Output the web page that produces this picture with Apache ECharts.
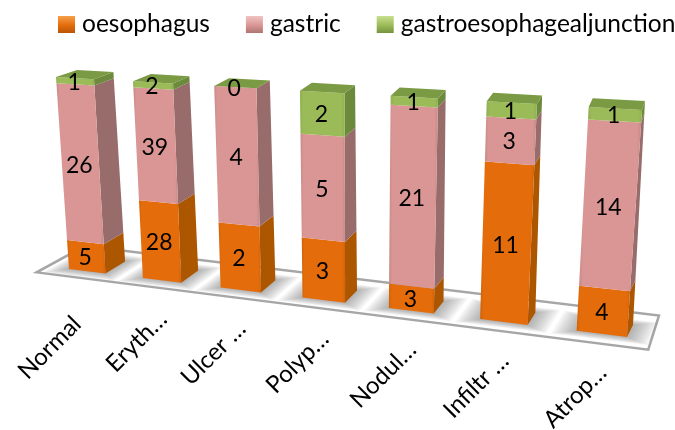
<!DOCTYPE html>
<html>
<head>
<meta charset="utf-8">
<style>html,body{margin:0;padding:0;background:#fff}#c{width:675px;height:430px}</style>
<script src="https://cdn.jsdelivr.net/npm/echarts@6/dist/echarts.min.js"></script>
</head>
<body>
<div id="c"></div>
<script>
var categories = ['Normal', 'Eryth…', 'Ulcer …', 'Polyp…', 'Nodul…', 'Infiltr …', 'Atrop…'];
var oesophagus = [5, 28, 2, 3, 3, 11, 4];
var gastric = [26, 39, 4, 5, 21, 3, 14];
var junction = [1, 2, 0, 2, 1, 1, 1];

var W = 675, H = 430, FONT = 'Lato, "Open Sans", sans-serif';

// homography unit square -> quad
function homography(p00, p10, p11, p01) {
  var dx1 = p10[0]-p11[0], dx2 = p01[0]-p11[0], sx = p00[0]-p10[0]+p11[0]-p01[0];
  var dy1 = p10[1]-p11[1], dy2 = p01[1]-p11[1], sy = p00[1]-p10[1]+p11[1]-p01[1];
  var den = dx1*dy2-dx2*dy1;
  var g = (sx*dy2-dx2*sy)/den, h = (dx1*sy-sx*dy1)/den;
  var a = p10[0]-p00[0]+g*p10[0], b = p01[0]-p00[0]+h*p01[0], c = p00[0];
  var d = p10[1]-p00[1]+g*p10[1], e = p01[1]-p00[1]+h*p01[1], f = p00[1];
  return function (s, t) {
    var q = g*s+h*t+1;
    return [(a*s+b*t+c)/q, (d*s+e*t+f)/q];
  };
}
var SPAN = 6.5;
var frontPlane = homography([69,269],[627,337],[642,110],[56,77]);
var backPlane  = homography([90,257],[633,325],[645,101],[77,70]);
function project(u, v, w) {
  var a = frontPlane(u/SPAN, v), b = backPlane(u/SPAN, v);
  return [a[0]+(b[0]-a[0])*w, a[1]+(b[1]-a[1])*w];
}
// grid pixel -> perspective
function fromAxis(api, i, val) {
  var p = api.coord([i, val]);
  var band = api.size([1, 0])[0];
  return { u: p[0]/band - 0.5, v: 1 - p[1]/H };
}
var TOTALS = categories.map(function (_, i) { return oesophagus[i]+gastric[i]+junction[i]; });
function rows(values, below) {
  return values.map(function (val, i) {
    var b = below[i];
    return [i, b/TOTALS[i], (b+val)/TOTALS[i], val];
  });
}
function sum(a, b) { return a.map(function (x, i) { return x+b[i]; }); }
function hGrad(c0, c1) {
  return new echarts.graphic.LinearGradient(0,0,1,0,[
    {offset:0,color:c1},{offset:0.07,color:c0},{offset:0.93,color:c0},{offset:1,color:c1}]);
}
function poly(pts, fill, z) {
  return {type:'polygon', z2:z||0, shape:{points:pts}, style:{fill:fill, stroke:null}};
}
function segment(front, edge, side, topFill) {
  return function (params, api) {
    var i = api.value(0);
    var lo = fromAxis(api, i, api.value(1)), hi = fromAxis(api, i, api.value(2));
    var u0 = lo.u, u1 = lo.u + 0.5, v0 = lo.v, v1 = hi.v;
    var kids = [];
    kids.push(poly([project(u1,v0,0),project(u1,v0,1),project(u1,v1,1),project(u1,v1,0)], side));
    if (v1 > v0) kids.push(poly([project(u0,v0,0),project(u1,v0,0),project(u1,v1,0),project(u0,v1,0)], hGrad(front, edge)));
    if (topFill) kids.push(poly([project(u0,v1,0),project(u1,v1,0),project(u1,v1,1),project(u0,v1,1)], topFill));
    var c = project(u0+0.25, (v0+v1)/2, 0);
    kids.push({type:'text', z2:5, style:{x:c[0]-1, y:c[1]+1, text:String(api.value(3)), fill:'#000',
      font:'23px '+FONT, align:'center', verticalAlign:'middle'}});
    return {type:'group', children:kids};
  };
}
function floorItem(params, api) {
  var corners = [[-0.3,-0.5],[6.75,-0.8],[6.7,2],[-0.3,1.7]];
  var pts = corners.map(function (c) { return project(c[0],0,c[1]); });
  return {type:'polygon', shape:{points:pts}, style:{fill:'#fff', stroke:'#a6a6a6', lineWidth:2.5}};
}
// soft contact shadow on the floor: stacked translucent footprints
function shadowItem(params, api) {
  var i = api.value(0), u = fromAxis(api, i, 0).u;
  var kids = [];
  for (var k = 8; k >= 0; k--) {
    var du = k*0.028, dw = k*0.055;
    kids.push(poly([project(u-du,0,-dw),project(u+0.5+du,0,-dw),
      project(u+0.5+du,0,1+dw),project(u-du,0,1+dw)], 'rgba(90,90,90,0.065)'));
  }
  return {type:'group', children:kids};
}
function labelItem(params, api) {
  var i = api.value(0), u = fromAxis(api, i, 0).u;
  var b = project(u+0.25, 0, 0);
  var x = b[0] + (i === 0 ? -10 : 1), y = b[1] + (i === 0 ? 49 : 35);
  return {type:'text', x:x, y:y, rotation:Math.PI/4, style:{x:0, y:0, text:categories[i], fill:'#000',
    font:'24px '+FONT, align:'right', verticalAlign:'middle'}};
}
function legendFill(a, b, c) {
  return new echarts.graphic.LinearGradient(0,0,0,1,[{offset:0,color:a},{offset:0.55,color:b},{offset:1,color:c}]);
}
var idx = categories.map(function (_, i) { return [i]; });
var base = {type:'custom', silent:true, animation:false, xAxisIndex:0, yAxisIndex:0};
function S(o) { return Object.assign({}, base, o); }

var chart = echarts.init(document.getElementById('c'), null, {width:W, height:H});
chart.setOption({
  backgroundColor:'#fff',
  animation:false,
  grid:{left:0,right:0,top:0,bottom:0},
  xAxis:{type:'category', data:categories, show:false},
  yAxis:{type:'value', min:0, max:1, show:false},
  legend:{
    left:58, top:12, width:800, padding:0, itemWidth:17, itemHeight:17, itemGap:36, icon:'rect',
    textStyle:{fontFamily:FONT, fontSize:24.5, color:'#000', padding:[0,0,0,2]},
    data:[
      {name:'oesophagus', itemStyle:{color:legendFill('#f6a04a','#e46c0a','#b85607')}},
      {name:'gastric', itemStyle:{color:legendFill('#efc4c2','#d99694','#ad7473')}},
      {name:'gastroesophagealjunction', itemStyle:{color:legendFill('#c9e08e','#9bbb59','#76923c')}}
    ]
  },
  series:[
    S({name:'floor', z:1, data:[[0]], renderItem:floorItem}),
    S({name:'shadow', z:2, data:idx, renderItem:shadowItem}),
    S({name:'oesophagus', z:3, itemStyle:{color:'#e46c0a'}, data:rows(oesophagus, oesophagus.map(function(){return 0;})),
       renderItem:segment('#e46c0a','#d2640a','#ad5600',null)}),
    S({name:'gastric', z:3, itemStyle:{color:'#d99694'}, data:rows(gastric, oesophagus),
       renderItem:segment('#d99694','#c88a88','#976c6b',null)}),
    S({name:'gastroesophagealjunction', z:3, itemStyle:{color:'#9bbb59'}, data:rows(junction, sum(oesophagus, gastric)),
       renderItem:segment('#9bbb59','#8fae50','#6c8a3c','#7a9a43')}),
    S({name:'labels', z:4, data:idx, renderItem:labelItem})
  ]
});
</script>
</body>
</html>
